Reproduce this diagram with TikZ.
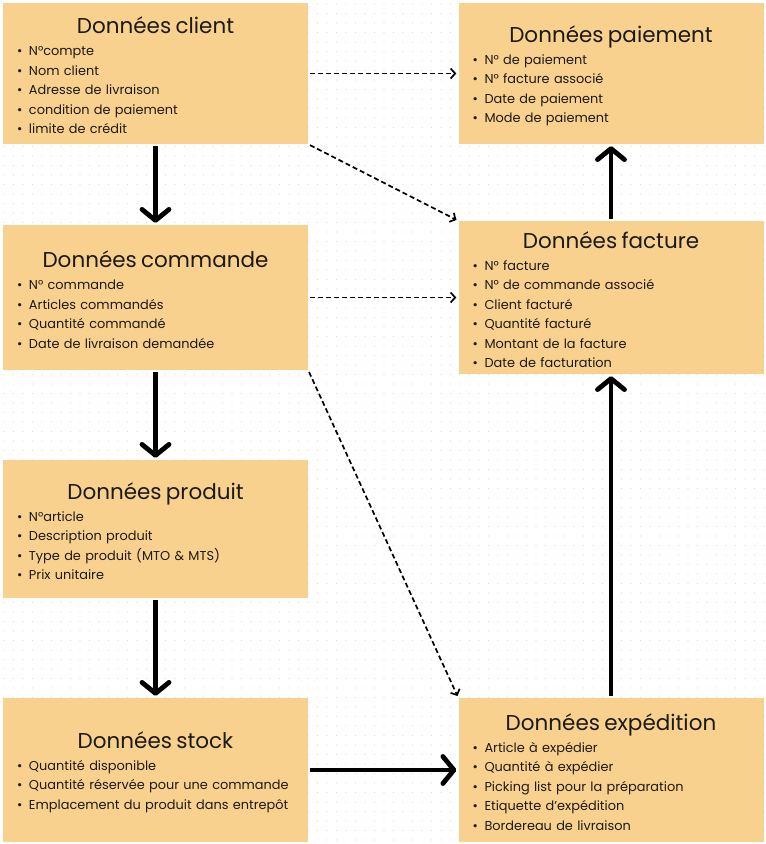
\documentclass[tikz,border=0pt]{standalone}
\usepackage{fontspec}
\setmainfont{Poppins}
\usetikzlibrary{positioning, arrows.meta}

\definecolor{boxfill}{HTML}{F9D18E}
\definecolor{inktext}{HTML}{1C1A17}

\newcommand{\boxhead}[1]{\makebox[\hsize][c]{\rule{0pt}{21pt}\fontsize{21.5}{22}\selectfont #1}\\[2.5pt]}
\newcommand{\entry}[1]{\mbox{\makebox[12pt][l]{\textbullet}#1}}

\begin{document}
\begin{tikzpicture}[
    x=1pt, y=1pt,
    node distance=224pt and 455.5pt,
    on grid,
    databox/.style={rectangle, fill=boxfill, text=inktext, text width=277pt, inner xsep=14pt, inner ysep=0pt, align=left, font=\fontsize{12.9}{19.5}\selectfont},
    mainflow/.style={line width=4.8pt, -{Straight Barb[length=11pt, width=27pt, round]}, shorten <=2pt, shorten >=2pt},
    linkflow/.style={line width=1.7pt, dash pattern=on 5pt off 3pt, -{Straight Barb[length=4.5pt, width=10pt]}, shorten <=2pt, shorten >=2pt},
    dotgrid/.style={fill=black!13}
]

\useasboundingbox (0,0) rectangle (766,-844);
\fill[white] (0,0) rectangle (766,-844);

% -------------------------
% DOTTED BACKGROUND
% -------------------------
\foreach \i in {0,...,80} {
  \foreach \j in {0,...,88} {
    \fill[dotgrid] (4+\i*9.5, -4-\j*9.5) circle (0.6);
  }
}

% -------------------------
% LEFT COLUMN
% -------------------------
\node[databox, minimum height=141pt] (Client) at (155.5,-73.5) {
    \boxhead{Données client}
    \entry{N°compte}\\
    \entry{Nom client}\\
    \entry{Adresse de livraison}\\
    \entry{condition de paiement}\\
    \entry{limite de crédit}
};

\node[databox, minimum height=145pt] (Commande) [below=of Client] {
    \boxhead{Données commande}
    \entry{N° commande}\\
    \entry{Articles commandés}\\
    \entry{Quantité commandé}\\
    \entry{Date de livraison demandée}
};

\node[databox, minimum height=138pt] (Produit) [below=231.5pt of Commande] {
    \boxhead{Données produit}
    \entry{N°article}\\
    \entry{Description produit}\\
    \entry{Type de produit (MTO \& MTS)}\\
    \entry{Prix unitaire}
};

\node[databox, minimum height=144pt] (Stock) [below=241pt of Produit] {
    \boxhead{Données stock}
    \entry{Quantité disponible}\\
    \entry{Quantité réservée pour une commande}\\
    \entry{Emplacement du produit dans entrepôt}
};

% -------------------------
% RIGHT COLUMN
% -------------------------
\node[databox, minimum height=141pt] (Paiement) [right=of Client] {
    \boxhead{Données paiement}
    \entry{N° de paiement}\\
    \entry{N° facture associé}\\
    \entry{Date de paiement}\\
    \entry{Mode de paiement}
};

\node[databox, minimum height=153pt] (Facture) [right=of Commande] {
    \boxhead{Données facture}
    \entry{N° facture}\\
    \entry{N° de commande associé}\\
    \entry{Client facturé}\\
    \entry{Quantité facturé}\\
    \entry{Montant de la facture}\\
    \entry{Date de facturation}
};

\node[databox, minimum height=144pt] (Expedition) [right=of Stock] {
    \boxhead{Données expédition}
    \entry{Article à expédier}\\
    \entry{Quantité à expédier}\\
    \entry{Picking list pour la préparation}\\
    \entry{Etiquette d'expédition}\\
    \entry{Bordereau de livraison}
};

% -------------------------
% MAIN FLOW
% -------------------------
\draw[mainflow] (Client) -- (Commande);
\draw[mainflow] (Commande) -- (Produit);
\draw[mainflow] (Produit) -- (Stock);
\draw[mainflow] (Stock) -- (Expedition);
\draw[mainflow] (Expedition) -- (Facture);
\draw[mainflow] (Facture) -- (Paiement);

% -------------------------
% DATA LINKS
% -------------------------
\draw[linkflow] (Client) -- (Paiement);
\draw[linkflow] (Client.south east) -- (Facture.north west);
\draw[linkflow] (Commande) -- (Facture);
\draw[linkflow] (Commande.south east) -- (Expedition.north west);

\end{tikzpicture}
\end{document}
